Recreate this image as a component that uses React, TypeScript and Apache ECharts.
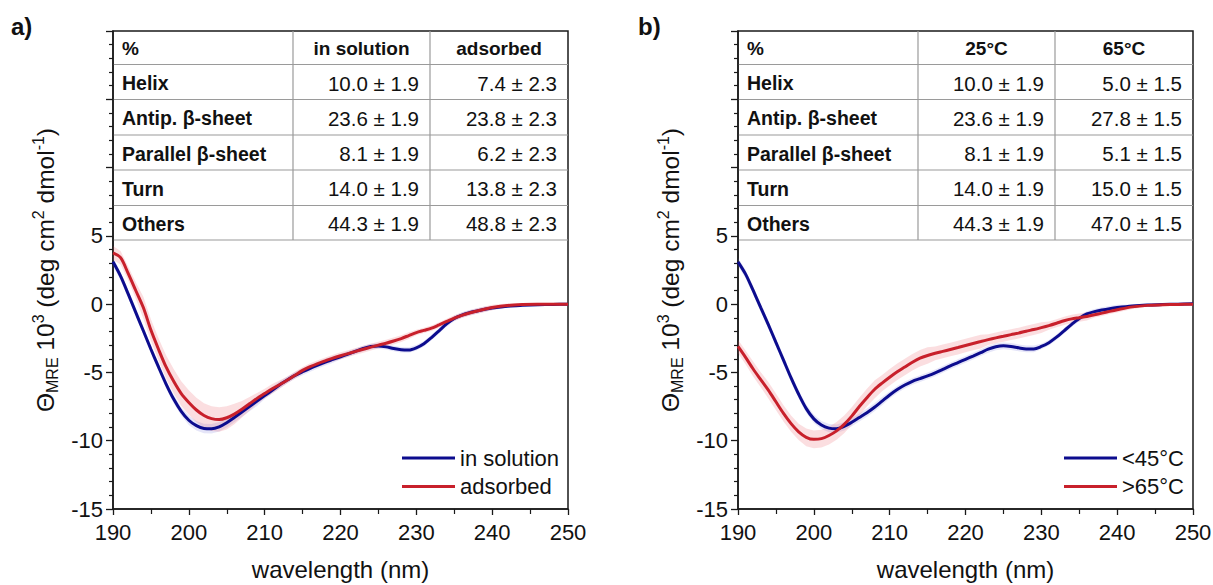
import React, { useEffect, useRef } from "react";
import * as echarts from "echarts";

// ---------------- data ----------------
const wavelengths = [
  190, 191, 192, 193, 194, 195, 196, 197, 198, 199,
  200, 201, 202, 203, 204, 205, 206, 207, 208, 209,
  210, 211, 212, 213, 214, 215, 216, 217, 218, 219,
  220, 221, 222, 223, 224, 225, 226, 227, 228, 229,
  230, 231, 232, 233, 234, 235, 236, 237, 238, 239,
  240,
  242, 244, 246, 248, 250,
];

// panel a
const inSolutionA = [
  3.1, 2.05, 0.75, -0.6, -1.95, -3.3, -4.6, -5.85, -6.95, -7.85,
  -8.5, -8.9, -9.1, -9.12, -8.98, -8.68, -8.3, -7.9, -7.5, -7.1,
  -6.7, -6.3, -5.9, -5.55, -5.22, -4.95, -4.7, -4.47, -4.25, -4.05,
  -3.85, -3.65, -3.45, -3.25, -3.1, -3.07, -3.13, -3.25, -3.34, -3.36,
  -3.2, -2.9, -2.45, -1.95, -1.45, -1.05, -0.8, -0.63, -0.5, -0.38,
  -0.28,
  -0.15, -0.09, -0.05, -0.02, 0,
];
const inSolutionErrA = [
  0.3, 0.3, 0.3, 0.3, 0.3, 0.3, 0.3, 0.3, 0.3, 0.3,
  0.35, 0.35, 0.35, 0.35, 0.35, 0.35, 0.35, 0.35, 0.35, 0.35,
  0.25, 0.25, 0.25, 0.25, 0.25, 0.25, 0.25, 0.25, 0.25, 0.25,
  0.2, 0.2, 0.2, 0.2, 0.2, 0.2, 0.2, 0.2, 0.2, 0.2,
  0.2, 0.2, 0.2, 0.2, 0.2, 0.2, 0.2, 0.2, 0.2, 0.2,
  0.15,
  0.1, 0.1, 0.1, 0.1, 0.1,
];
const adsorbedA = [
  3.75, 3.4, 2.25, 1.0, -0.25, -1.9, -3.3, -4.6, -5.65, -6.55,
  -7.2, -7.75, -8.15, -8.38, -8.45, -8.32, -8.05, -7.7, -7.3, -6.9,
  -6.55, -6.2, -5.88, -5.55, -5.2, -4.85, -4.58, -4.35, -4.15, -3.95,
  -3.78, -3.62, -3.46, -3.3, -3.15, -3.0, -2.86, -2.7, -2.52, -2.3,
  -2.08, -1.92, -1.76, -1.52, -1.27, -1.02, -0.82, -0.65, -0.5, -0.37,
  -0.25,
  -0.1, -0.03, 0, 0, 0,
];
const adsorbedErrA = [
  0.5, 0.5, 0.5, 0.6, 0.8, 0.8, 0.8, 0.85, 0.9, 0.9,
  0.9, 0.9, 0.9, 0.9, 0.9, 0.85, 0.75, 0.6, 0.5, 0.4,
  0.35, 0.35, 0.3, 0.25, 0.25, 0.25, 0.25, 0.25, 0.25, 0.25,
  0.25, 0.25, 0.25, 0.25, 0.25, 0.25, 0.25, 0.25, 0.25, 0.25,
  0.2, 0.2, 0.2, 0.2, 0.2, 0.2, 0.2, 0.2, 0.2, 0.2,
  0.2,
  0.15, 0.12, 0.1, 0.1, 0.1,
];

// panel b
const below45B = [
  3.1, 2.2, 1.0, -0.25, -1.5, -2.8, -4.1, -5.4, -6.6, -7.65,
  -8.4, -8.85, -9.08, -9.12, -8.95, -8.65, -8.3, -7.95, -7.55, -7.1,
  -6.65, -6.25, -5.92, -5.65, -5.45, -5.25, -5.03, -4.78, -4.52, -4.28,
  -4.04, -3.8, -3.55, -3.3, -3.12, -3.05, -3.1, -3.2, -3.28, -3.28,
  -3.1, -2.82, -2.42, -1.95, -1.48, -1.05, -0.72, -0.55, -0.43, -0.33,
  -0.25,
  -0.13, -0.06, -0.03, 0, 0.03,
];
const below45ErrB = [
  0.3, 0.3, 0.3, 0.3, 0.3, 0.3, 0.3, 0.3, 0.3, 0.3,
  0.3, 0.3, 0.3, 0.3, 0.3, 0.3, 0.3, 0.3, 0.3, 0.3,
  0.25, 0.25, 0.25, 0.25, 0.25, 0.25, 0.25, 0.25, 0.25, 0.25,
  0.25, 0.25, 0.25, 0.25, 0.25, 0.25, 0.25, 0.25, 0.25, 0.25,
  0.2, 0.2, 0.2, 0.2, 0.2, 0.2, 0.2, 0.2, 0.2, 0.2,
  0.2,
  0.1, 0.1, 0.1, 0.1, 0.1,
];
const above65B = [
  -3.1, -3.9, -4.75, -5.53, -6.3, -7.15, -8.0, -8.75, -9.35, -9.75,
  -9.9, -9.85, -9.62, -9.28, -8.8, -8.2, -7.5, -6.85, -6.25, -5.78,
  -5.35, -4.95, -4.6, -4.25, -3.96, -3.76, -3.6, -3.46, -3.32, -3.18,
  -3.03, -2.88, -2.74, -2.6, -2.47, -2.35, -2.23, -2.12, -1.98, -1.86,
  -1.72, -1.57, -1.4, -1.22, -1.08, -0.99, -0.9, -0.78, -0.66, -0.53,
  -0.41,
  -0.2, -0.09, -0.05, -0.02, 0,
];
const above65ErrB = [
  0.5, 0.5, 0.55, 0.55, 0.6, 0.6, 0.6, 0.6, 0.6, 0.65,
  0.65, 0.65, 0.65, 0.65, 0.65, 0.65, 0.65, 0.65, 0.65, 0.6,
  0.6, 0.6, 0.6, 0.6, 0.6, 0.6, 0.5, 0.5, 0.5, 0.5,
  0.5, 0.5, 0.5, 0.4, 0.4, 0.4, 0.4, 0.4, 0.4, 0.4,
  0.4, 0.3, 0.3, 0.3, 0.3, 0.3, 0.3, 0.2, 0.2, 0.2,
  0.2,
  0.15, 0.1, 0.1, 0.1, 0.1,
];

// tables
const structureRows = ["Helix", "Antip. β-sheet", "Parallel β-sheet", "Turn", "Others"];
const headersA = ["in solution", "adsorbed"];
const pctInSolution = [10.0, 23.6, 8.1, 14.0, 44.3];
const pctInSolutionErr = 1.9;
const pctAdsorbed = [7.4, 23.8, 6.2, 13.8, 48.8];
const pctAdsorbedErr = 2.3;
const headersB = ["25°C", "65°C"];
const pct25 = [10.0, 23.6, 8.1, 14.0, 44.3];
const pct25Err = 1.9;
const pct65 = [5.0, 27.8, 5.1, 15.0, 47.0];
const pct65Err = 1.5;

const yLabelValues = [-15, -10, -5, 0, 5];
const seriesNamesA = ["in solution", "adsorbed"];
const seriesNamesB = ["<45°C", ">65°C"];
const panelLabels = ["a)", "b)"];

// ---------------- style ----------------
const FONT = "'Liberation Sans', Arial, Helvetica, sans-serif";
const BLUE = "#0c0c8e";
const RED = "#c8202b";
const BLUE_BAND = "rgba(95, 95, 210, 0.16)";
const RED_BAND = "rgba(235, 90, 100, 0.2)";
const GRID_TOP = 31;
const GRID_W = 455;
const GRID_H = 478;
const GRID_LEFTS = [113, 738];
const COL_SPLITS = [180, 317];
const ROW_BOUNDS = [0, 33.5, 68.5, 104, 139, 174.5, 209];

function tableGraphics(left: number, headers: string[], c1: number[], e1: number, c2: number[], e2: number) {
  const els: any[] = [];
  const right = left + GRID_W;
  const x1 = left + COL_SPLITS[0];
  const x2 = left + COL_SPLITS[1];
  const grey = "#9a9a9a";
  for (let r = 1; r < ROW_BOUNDS.length; r++) {
    const y = GRID_TOP + ROW_BOUNDS[r];
    els.push({ type: "line", shape: { x1: left, y1: y, x2: right, y2: y }, style: { stroke: grey, lineWidth: 1.2 }, silent: true });
  }
  const yb = GRID_TOP + ROW_BOUNDS[ROW_BOUNDS.length - 1];
  [x1, x2].forEach((x) =>
    els.push({ type: "line", shape: { x1: x, y1: GRID_TOP, x2: x, y2: yb }, style: { stroke: grey, lineWidth: 1.2 }, silent: true })
  );
  const rowMid = (r: number) => GRID_TOP + (ROW_BOUNDS[r] + ROW_BOUNDS[r + 1]) / 2 + 1;
  const txt = (text: string, x: number, y: number, align: string, bold: boolean, size: number) => ({
    type: "text",
    silent: true,
    style: { text, x, y, align, verticalAlign: "middle", fontFamily: FONT, fontSize: size, fontWeight: bold ? "bold" : "normal", fill: "#111" },
  });
  els.push(txt("%", left + 9, rowMid(0), "left", true, 19));
  els.push(txt(headers[0], (x1 + x2) / 2, rowMid(0), "center", true, 19));
  els.push(txt(headers[1], (x2 + right) / 2, rowMid(0), "center", true, 19));
  structureRows.forEach((lab, i) => {
    const y = rowMid(i + 1);
    els.push(txt(lab, left + 9, y, "left", true, 19.5));
    els.push(txt(`${c1[i].toFixed(1)} ± ${e1.toFixed(1)}`, x2 - 11, y, "right", false, 20.5));
    els.push(txt(`${c2[i].toFixed(1)} ± ${e2.toFixed(1)}`, right - 11, y, "right", false, 20.5));
  });
  return els;
}

function makeBand(idx: number, means: number[], errs: number[], color: string) {
  return {
    type: "custom",
    name: "band" + idx + color,
    xAxisIndex: idx,
    yAxisIndex: idx,
    silent: true,
    z: 1,
    data: wavelengths.map((w, i) => [w, means[i] - errs[i], means[i] + errs[i]]),
    encode: { x: 0, y: [1, 2] },
    renderItem: (params: any, api: any) => {
      if (params.dataIndex !== 0) return null;
      const upper = wavelengths.map((w, i) => api.coord([w, means[i] + errs[i]]));
      const lower = wavelengths.map((w, i) => api.coord([w, means[i] - errs[i]])).reverse();
      return { type: "polygon", shape: { points: upper.concat(lower) }, style: { fill: color, stroke: null } };
    },
  };
}

function makeLine(idx: number, name: string, vals: number[], color: string) {
  return {
    type: "line",
    name,
    xAxisIndex: idx,
    yAxisIndex: idx,
    data: wavelengths.map((w, i) => [w, vals[i]]),
    symbol: "none",
    showSymbol: false,
    smooth: 0.3,
    lineStyle: { width: 3, color },
    itemStyle: { color },
    z: 3,
  };
}

const yName =
  "{main|Θ}{sub|MRE}{main| 10}{sup|3}{main| (deg cm}{sup|2}{main| dmol}{sup|-1}{main|)}";

function xAxis(idx: number) {
  return {
    type: "value",
    gridIndex: idx,
    min: 190,
    max: 250,
    interval: 10,
    name: "wavelength (nm)",
    nameLocation: "middle",
    nameGap: 48,
    nameTextStyle: { fontSize: 24, color: "#111", fontFamily: FONT },
    axisLine: { onZero: false, lineStyle: { color: "#1a1a1a", width: 1.5 } },
    axisTick: { show: true, length: 6, lineStyle: { color: "#1a1a1a", width: 1.3 } },
    minorTick: { show: true, splitNumber: 2, length: 5, lineStyle: { color: "#1a1a1a", width: 1.2 } },
    axisLabel: { fontSize: 22, color: "#111", margin: 12, fontFamily: FONT },
    splitLine: { show: false },
  };
}

function yAxis(idx: number) {
  return {
    type: "value",
    gridIndex: idx,
    min: -15,
    max: 20,
    interval: 5,
    name: yName,
    nameLocation: "middle",
    nameGap: 53,
    nameTextStyle: {
      color: "#111",
      fontFamily: FONT,
      rich: {
        main: { fontSize: 24.5, lineHeight: 30, fontFamily: FONT, color: "#111" },
        sub: { fontSize: 16, lineHeight: 16, verticalAlign: "bottom", fontFamily: FONT, color: "#111" },
        sup: { fontSize: 16, lineHeight: 16, verticalAlign: "top", fontFamily: FONT, color: "#111" },
      },
    },
    axisLine: { onZero: false, lineStyle: { color: "#1a1a1a", width: 1.5 } },
    axisTick: { show: true, length: 7, lineStyle: { color: "#1a1a1a", width: 1.3 } },
    minorTick: { show: true, splitNumber: 5, length: 4, lineStyle: { color: "#1a1a1a", width: 1.2 } },
    axisLabel: { fontSize: 22, color: "#111", margin: 10, fontFamily: FONT, customValues: yLabelValues },
    splitLine: { show: false },
  };
}

function legend(names: string[], left: number) {
  return {
    data: names,
    orient: "vertical",
    left,
    top: 441,
    icon: "rect",
    itemWidth: 53,
    itemHeight: 3,
    itemGap: 4.5,
    selectedMode: false,
    textStyle: { fontSize: 22, lineHeight: 24, color: "#111", fontFamily: FONT },
  };
}

export default function App() {
  const ref = useRef<HTMLDivElement>(null);
  useEffect(() => {
    if (!ref.current) return;
    const chart = echarts.init(ref.current, undefined, { renderer: "svg" });
    const graphic: any[] = [
      ...tableGraphics(GRID_LEFTS[0], headersA, pctInSolution, pctInSolutionErr, pctAdsorbed, pctAdsorbedErr),
      ...tableGraphics(GRID_LEFTS[1], headersB, pct25, pct25Err, pct65, pct65Err),
      { type: "text", silent: true, style: { text: panelLabels[0], x: 11, y: 26, verticalAlign: "middle", fontFamily: FONT, fontSize: 24, fontWeight: "bold", fill: "#111" } },
      { type: "text", silent: true, style: { text: panelLabels[1], x: 638, y: 26, verticalAlign: "middle", fontFamily: FONT, fontSize: 24, fontWeight: "bold", fill: "#111" } },
    ];
    chart.setOption({
      animation: false,
      textStyle: { fontFamily: FONT },
      grid: GRID_LEFTS.map((l) => ({
        left: l,
        top: GRID_TOP,
        width: GRID_W,
        height: GRID_H,
        outerBoundsMode: "none",
        containLabel: false,
        show: true,
        borderColor: "#1a1a1a",
        borderWidth: 1.5,
        backgroundColor: "transparent",
      })),
      xAxis: [xAxis(0), xAxis(1)],
      yAxis: [yAxis(0), yAxis(1)],
      legend: [legend(seriesNamesA, 397), legend(seriesNamesB, 1059)],
      graphic,
      series: [
        makeBand(0, inSolutionA, inSolutionErrA, BLUE_BAND),
        makeBand(0, adsorbedA, adsorbedErrA, RED_BAND),
        makeLine(0, seriesNamesA[0], inSolutionA, BLUE),
        makeLine(0, seriesNamesA[1], adsorbedA, RED),
        makeBand(1, below45B, below45ErrB, BLUE_BAND),
        makeBand(1, above65B, above65ErrB, RED_BAND),
        makeLine(1, seriesNamesB[0], below45B, BLUE),
        makeLine(1, seriesNamesB[1], above65B, RED),
      ],
    });
    return () => chart.dispose();
  }, []);
  return <div ref={ref} style={{ position: "absolute", left: 0, top: 0, width: 1213, height: 585, background: "#fff" }} />;
}
